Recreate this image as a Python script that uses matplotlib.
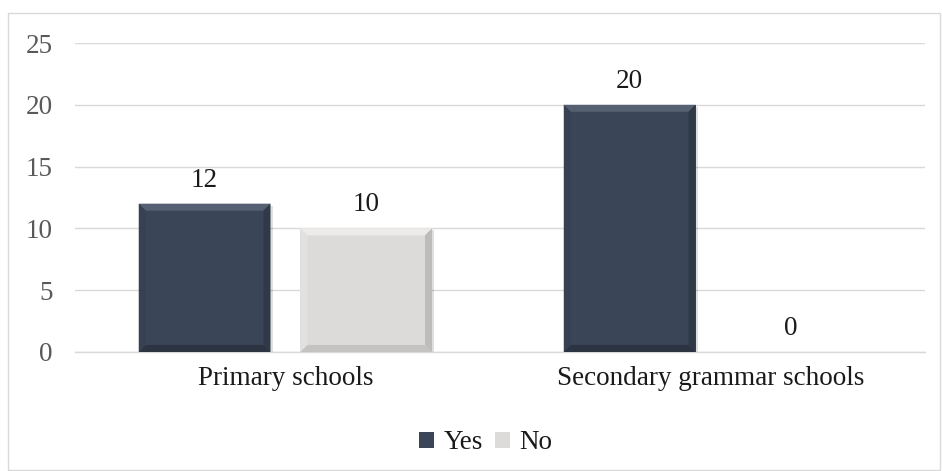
import matplotlib.pyplot as plt
import numpy as np
from matplotlib.patches import Polygon, Rectangle

categories = ["Primary schools", "Secondary grammar schools"]
yes_vals = [12, 20]
no_vals = [10, 0]
series = ["Yes", "No"]

plt.rcParams["font.family"] = ["Liberation Serif", "DejaVu Serif"]

fig = plt.figure(figsize=(9.42, 4.71), dpi=100)
ax = fig.add_axes([0.0796, 0.2527, 0.9024, 0.656])

# chart frame
fig.patches.append(Rectangle((0.009, 0.002), 0.989, 0.97, transform=fig.transFigure,
                             fill=False, edgecolor="#d9d9d9", linewidth=1.0))

x = np.arange(len(categories))
width = 0.31
off = 0.19

styles = {
    "Yes": dict(face="#3a4557", top="#556173", bottom="#2c3442", left="#364152", right="#2f3948"),
    "No": dict(face="#dcdbda", top="#ecebea", bottom="#c4c3c2", left="#e2e1e0", right="#bdbcbb"),
}

bars_yes = ax.bar(x - off, yes_vals, width, color=styles["Yes"]["face"], label="Yes", zorder=3)
bars_no = ax.bar(x + off, no_vals, width, color=styles["No"]["face"], label="No", zorder=3)

ax.set_xlim(-0.495, 1.505)
ax.set_ylim(0, 25)
ax.set_yticks(range(0, 26, 5))
ax.set_xticks(x)
ax.set_xticklabels(categories)

fig.canvas.draw()
inv = ax.transData.inverted()
p0 = inv.transform((0, 0))
p1 = inv.transform((7, 7))
dx, dy = p1[0] - p0[0], p1[1] - p0[1]


def bevel(bars, st):
    for b in bars:
        h = b.get_height()
        if h <= 0:
            continue
        x0, w = b.get_x(), b.get_width()
        x1, y1 = x0 + w, h
        # soft shadow
        ax.add_patch(Rectangle((x0 + dx * 0.3, -dy * 0.3), w, h, color="#00000020",
                               zorder=2, linewidth=0))
        ax.add_patch(Polygon([(x0, y1), (x1, y1), (x1 - dx, y1 - dy), (x0 + dx, y1 - dy)],
                             closed=True, color=st["top"], zorder=4, linewidth=0))
        ax.add_patch(Polygon([(x0, 0), (x1, 0), (x1 - dx, dy), (x0 + dx, dy)],
                             closed=True, color=st["bottom"], zorder=4, linewidth=0))
        ax.add_patch(Polygon([(x0, 0), (x0 + dx, dy), (x0 + dx, y1 - dy), (x0, y1)],
                             closed=True, color=st["left"], zorder=4, linewidth=0))
        ax.add_patch(Polygon([(x1, 0), (x1 - dx, dy), (x1 - dx, y1 - dy), (x1, y1)],
                             closed=True, color=st["right"], zorder=4, linewidth=0))


bevel(bars_yes, styles["Yes"])
bevel(bars_no, styles["No"])

for bars in (bars_yes, bars_no):
    for b in bars:
        ax.annotate(f"{b.get_height():g}", (b.get_x() + b.get_width() / 2, b.get_height()),
                    xytext=(0, 8), textcoords="offset points", ha="center", va="bottom",
                    fontsize=19.5, color="#1a1a1a")

ax.yaxis.grid(True, color="#d9d9d9", linewidth=1.0, zorder=0)
ax.set_axisbelow(True)
for s in ["top", "right", "left"]:
    ax.spines[s].set_visible(False)
ax.spines["bottom"].set_color("#d9d9d9")
ax.spines["bottom"].set_linewidth(1.0)
ax.tick_params(axis="y", length=0, labelsize=19.5, labelcolor="#595959", pad=16)
ax.tick_params(axis="x", length=0, labelsize=19.5, labelcolor="#1a1a1a", pad=10)

leg = ax.legend(loc="upper center", bbox_to_anchor=(0.483, -0.175), ncol=2, frameon=False,
                fontsize=19.5, handlelength=0.55, handleheight=0.55, handletextpad=0.35,
                columnspacing=0.45)
for t in leg.get_texts():
    t.set_color("#1a1a1a")

fig.savefig("out.png", dpi=100)
